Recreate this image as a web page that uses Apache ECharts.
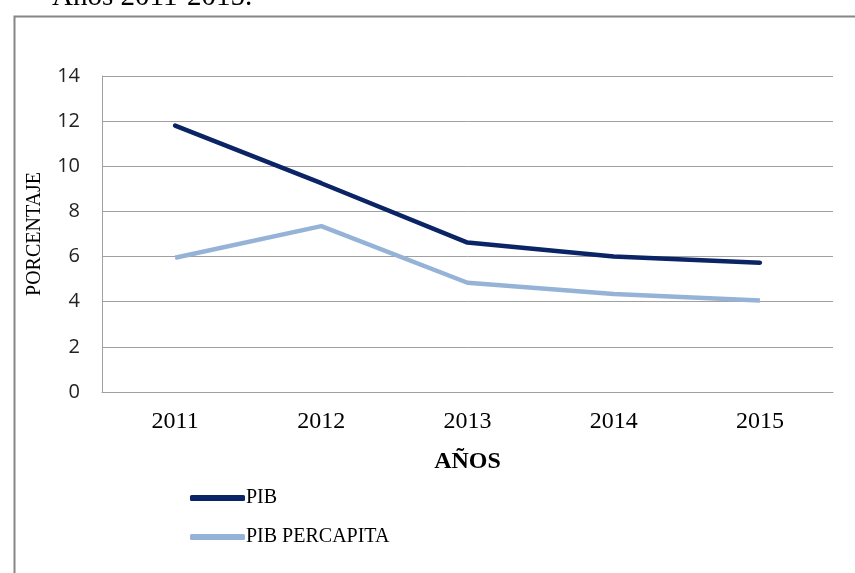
<!DOCTYPE html>
<html>
<head>
<meta charset="utf-8">
<script src="https://cdn.jsdelivr.net/npm/echarts@6/dist/echarts.min.js"></script>
<style>
  html, body { margin: 0; padding: 0; background: #fff; }
  #chart { width: 855px; height: 573px; }
</style>
</head>
<body>
<div id="chart"></div>
<script>
// datos
const years = ['2011', '2012', '2013', '2014', '2015'];
const pib = [11.8, 9.25, 6.62, 6.0, 5.73];
const pibPercapita = [5.95, 7.35, 4.84, 4.34, 4.05];
const yTicks = [0, 2, 4, 6, 8, 10, 12, 14];

const serif = '"Liberation Serif", "Times New Roman", serif';

const chart = echarts.init(document.getElementById('chart'));

const option = {
  animation: false,
  backgroundColor: '#fff',
  graphic: [
    // titulo recortado arriba
    { type: 'text', left: 52, top: -17, style: { text: 'Años 2011-2015.', font: '29px ' + serif, fill: '#000' } },
    // marco del grafico
    { type: 'rect', left: 12, top: 14, shape: { x: 0, y: 0, width: 860, height: 580 },
      style: { fill: 'none', stroke: '#868686', lineWidth: 2 } }
  ],
  grid: { left: 102, right: 22, top: 76, bottom: 181 },
  legend: {
    orient: 'vertical',
    left: 190,
    top: 488,
    padding: 0,
    itemWidth: 55,
    itemHeight: 6,
    itemGap: 19,
    icon: 'roundRect',
    textStyle: { fontFamily: serif, fontSize: 20, color: '#000', padding: [0, 0, 0, -4] },
    data: ['PIB', 'PIB PERCAPITA']
  },
  xAxis: {
    type: 'category',
    data: years,
    boundaryGap: true,
    name: 'AÑOS',
    nameLocation: 'middle',
    nameGap: 58,
    nameTextStyle: { fontFamily: serif, fontSize: 24, fontWeight: 'bold', color: '#000' },
    axisLine: { lineStyle: { color: '#a0a0a0', width: 1 } },
    axisTick: { show: false },
    axisLabel: { fontFamily: serif, fontSize: 24, color: '#000', margin: 18 }
  },
  yAxis: {
    type: 'value',
    min: yTicks[0],
    max: yTicks[yTicks.length - 1],
    interval: 2,
    name: 'PORCENTAJE',
    nameLocation: 'middle',
    nameGap: 57,
    nameTextStyle: { fontFamily: serif, fontSize: 20, color: '#000' },
    axisLine: { show: true, lineStyle: { color: '#a0a0a0', width: 1 } },
    axisTick: { show: false },
    axisLabel: { fontFamily: '"Open Sans", "Liberation Sans", sans-serif', fontSize: 20, color: '#222', margin: 22 },
    splitLine: { lineStyle: { color: '#a0a0a0', width: 1 } }
  },
  series: [
    {
      name: 'PIB', type: 'line', data: pib, symbol: 'none',
      color: '#0b2466',
      lineStyle: { color: '#0b2466', width: 4.5, cap: 'round' }
    },
    {
      name: 'PIB PERCAPITA', type: 'line', data: pibPercapita, symbol: 'none',
      color: '#95b3d7',
      lineStyle: { color: '#95b3d7', width: 4.5 }
    }
  ]
};

chart.setOption(option);
</script>
</body>
</html>
